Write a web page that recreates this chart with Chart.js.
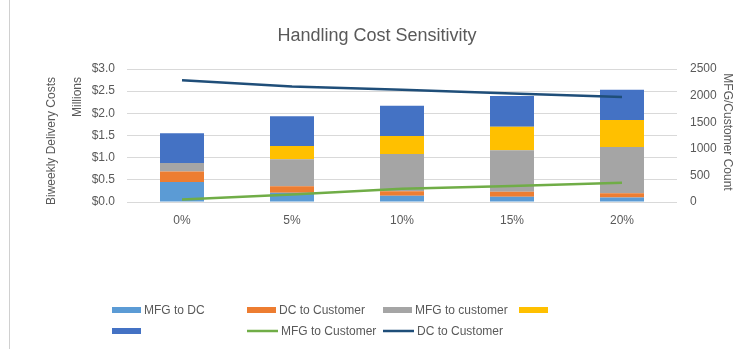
<!DOCTYPE html>
<html>
<head>
<meta charset="utf-8">
<title>Handling Cost Sensitivity</title>
<script src="https://cdn.jsdelivr.net/npm/chart.js@4/dist/chart.umd.min.js"></script>
<style>
  html, body { margin: 0; padding: 0; background: #ffffff; }
  #wrap { position: relative; width: 735px; height: 349px; }
  canvas { display: block; }
</style>
</head>
<body>
<div id="wrap"><canvas id="chart" width="735" height="349"></canvas></div>
<script>
// Handling cost scenarios
const categories = ['0%', '5%', '10%', '15%', '20%'];

// Biweekly delivery cost components, $ millions (stacked bars)
const mfgToDc       = [0.45, 0.21, 0.14, 0.12, 0.10];
const dcToCustomer  = [0.24, 0.145, 0.10, 0.11, 0.10];
const mfgToCustomer = [0.19, 0.61, 0.84, 0.94, 1.04];
const handlingCost  = [0.00, 0.30, 0.41, 0.53, 0.61];
const otherCost     = [0.67, 0.67, 0.68, 0.69, 0.68];

// Customer counts served by each channel (lines, right axis)
const mfgCustomerCount = [45, 140, 250, 300, 360];
const dcCustomerCount  = [2290, 2170, 2110, 2040, 1975];

// Series names as they appear in the legend
const barNames  = ['MFG to DC', 'DC to Customer', 'MFG to customer', '', ''];
const lineNames = ['MFG to Customer', 'DC to Customer'];

// Axis ticks
const costTicks  = [0, 0.5, 1.0, 1.5, 2.0, 2.5, 3.0];
const countTicks = [0, 500, 1000, 1500, 2000, 2500];

const chartTitle = 'Handling Cost Sensitivity';

const TEXT = '#595959';
const GRID = '#D9D9D9';
const FONT = "'Liberation Sans', Arial, sans-serif";

const barColors  = ['#5B9BD5', '#ED7D31', '#A5A5A5', '#FFC000', '#4472C4'];
const lineColors = ['#70AD47', '#1F4E79'];
const barSeries  = [mfgToDc, dcToCustomer, mfgToCustomer, handlingCost, otherCost];
const lineSeries = [mfgCustomerCount, dcCustomerCount];

const datasets = [];
barSeries.forEach((vals, i) => {
  datasets.push({
    type: 'bar',
    label: barNames[i],
    data: vals,
    backgroundColor: barColors[i],
    borderWidth: 0,
    stack: 'cost',
    yAxisID: 'y',
    order: 1,
    categoryPercentage: 1.0,
    barPercentage: 0.4
  });
});
lineSeries.forEach((vals, i) => {
  datasets.push({
    type: 'line',
    label: lineNames[i],
    data: vals,
    borderColor: lineColors[i],
    backgroundColor: lineColors[i],
    borderWidth: 2.5,
    pointRadius: 0,
    tension: 0,
    fill: false,
    yAxisID: 'y1',
    order: 0
  });
});

// Frame line, title, axis titles and the two-row legend grid
const decorations = {
  id: 'decorations',
  afterDraw(chart) {
    const ctx = chart.ctx;
    ctx.save();

    // left frame edge
    ctx.strokeStyle = '#D0D0D0';
    ctx.lineWidth = 1;
    ctx.beginPath();
    ctx.moveTo(9.5, 0);
    ctx.lineTo(9.5, chart.height);
    ctx.stroke();

    ctx.fillStyle = TEXT;
    ctx.textAlign = 'center';
    ctx.textBaseline = 'middle';

    // chart title
    ctx.font = '18px ' + FONT;
    ctx.fillText(chartTitle, 377, 36.5);

    ctx.font = '12px ' + FONT;

    // left axis title
    ctx.save();
    ctx.translate(52, 141);
    ctx.rotate(-Math.PI / 2);
    ctx.fillText('Biweekly Delivery Costs', 0, 0);
    ctx.restore();

    // display units label
    ctx.save();
    ctx.translate(78, 97);
    ctx.rotate(-Math.PI / 2);
    ctx.fillText('Millions', 0, 0);
    ctx.restore();

    // right axis title
    ctx.save();
    ctx.translate(727, 132);
    ctx.rotate(Math.PI / 2);
    ctx.fillText('MFG/Customer Count', 0, 0);
    ctx.restore();

    // legend: 4 columns, 2 rows
    const colX = [112, 247, 383, 519];
    const rowY = [310, 331];
    ctx.textAlign = 'left';
    chart.data.datasets.forEach((ds, i) => {
      const x = colX[i % 4];
      const y = rowY[Math.floor(i / 4)];
      if (ds.type === 'line') {
        ctx.strokeStyle = ds.borderColor;
        ctx.lineWidth = 2.5;
        ctx.beginPath();
        ctx.moveTo(x, y);
        ctx.lineTo(x + 31, y);
        ctx.stroke();
        ctx.fillStyle = TEXT;
        ctx.fillText(ds.label, x + 34, y + 0.5);
      } else {
        ctx.fillStyle = ds.backgroundColor;
        ctx.fillRect(x, y - 3, 29, 6);
        if (ds.label) {
          ctx.fillStyle = TEXT;
          ctx.fillText(ds.label, x + 32, y + 0.5);
        }
      }
    });
    ctx.restore();
  }
};

new Chart(document.getElementById('chart'), {
  data: { labels: categories, datasets: datasets },
  options: {
    responsive: false,
    animation: false,
    layout: { padding: { top: 69, left: 0, right: 0, bottom: 0 } },
    plugins: {
      legend: { display: false },
      tooltip: { enabled: false },
      title: { display: false }
    },
    scales: {
      x: {
        stacked: true,
        grid: { display: false, drawTicks: false },
        border: { display: false },
        ticks: { color: TEXT, font: { family: FONT, size: 12 }, padding: 11 },
        afterFit(s) { s.height = 147; }
      },
      y: {
        position: 'left',
        stacked: true,
        min: 0,
        max: 3,
        afterBuildTicks(s) { s.ticks = costTicks.map(v => ({ value: v })); },
        grid: { color: GRID, drawTicks: false },
        border: { display: false },
        ticks: {
          color: TEXT,
          font: { family: FONT, size: 12 },
          padding: 12,
          callback: v => '$' + Number(v).toFixed(1)
        },
        afterFit(s) { s.width = 127; }
      },
      y1: {
        position: 'right',
        min: 0,
        max: 2500,
        afterBuildTicks(s) { s.ticks = countTicks.map(v => ({ value: v })); },
        grid: { display: false, drawTicks: false },
        border: { display: false },
        ticks: {
          color: TEXT,
          font: { family: FONT, size: 12 },
          padding: 13,
          callback: v => String(v)
        },
        afterFit(s) { s.width = 58; }
      }
    }
  },
  plugins: [decorations]
});
</script>
</body>
</html>
